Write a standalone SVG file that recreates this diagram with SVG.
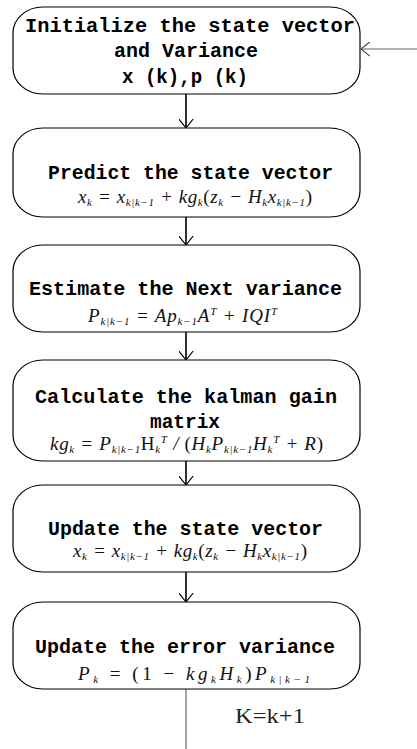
<svg xmlns="http://www.w3.org/2000/svg" width="417" height="749" viewBox="0 0 417 749">
<style>
.box{fill:#fff;stroke:#000;stroke-width:1.2}
.t{font-family:"Liberation Mono","DejaVu Sans Mono",monospace;font-weight:bold;font-size:20px;fill:#000}
.f{font-family:"Liberation Serif","Times New Roman",serif;font-style:italic;font-size:19px;fill:#111}
.r{font-style:normal}
.s{font-size:11px}
.c{stroke:#000;stroke-width:1.6;fill:none}
.g{stroke:#666;stroke-width:1.2;fill:none}
.k{font-family:"Liberation Serif","Times New Roman",serif;font-size:21px;fill:#222}
</style>
<defs>
<marker id="ah" viewBox="0 0 10 16" refX="10" refY="8" markerWidth="9" markerHeight="15" markerUnits="userSpaceOnUse" orient="auto">
<path d="M0,0 L10,8 L0,16" fill="none" stroke="#000" stroke-width="1.3"/>
</marker>
<marker id="ahg" viewBox="0 0 10 16" refX="10" refY="8" markerWidth="9" markerHeight="15" markerUnits="userSpaceOnUse" orient="auto">
<path d="M0,0 L10,8 L0,16" fill="none" stroke="#444" stroke-width="1.2"/>
</marker>
</defs>
<g id="connectors">
<line class="c" x1="186" y1="94" x2="186" y2="128" marker-end="url(#ah)"/>
<line class="c" x1="186" y1="217" x2="186" y2="245" marker-end="url(#ah)"/>
<line class="c" x1="186" y1="332" x2="186" y2="360" marker-end="url(#ah)"/>
<line class="c" x1="186" y1="461" x2="186" y2="485" marker-end="url(#ah)"/>
<line class="c" x1="186" y1="572" x2="186" y2="602" marker-end="url(#ah)"/>
<line class="g" x1="186" y1="689" x2="186" y2="749"/>
<line class="g" x1="417" y1="49" x2="361" y2="49" marker-end="url(#ahg)"/>
<text class="k" x="235" y="723" textLength="70" lengthAdjust="spacingAndGlyphs">K=k+1</text>
</g>
<g id="n1">
<rect class="box" x="13" y="7" width="347" height="87" rx="30" ry="26"/>
<text class="t" x="25" y="32" textLength="330" lengthAdjust="spacingAndGlyphs">Initialize the state vector</text>
<text class="t" x="114" y="57" textLength="144" lengthAdjust="spacingAndGlyphs">and Variance</text>
<text class="t" x="122" y="83" textLength="126" lengthAdjust="spacingAndGlyphs">x (k),p (k)</text>
</g>
<g id="n2">
<rect class="box" x="13" y="128" width="347" height="89" rx="30" ry="26"/>
<text class="t" x="48" y="179" textLength="285" lengthAdjust="spacingAndGlyphs">Predict the state vector</text>
<text class="f" x="78" y="203" textLength="234" lengthAdjust="spacing">x<tspan class="s" dy="3">k</tspan><tspan dy="-3"> = x</tspan><tspan class="s" dy="3">k|k−1</tspan><tspan dy="-3"> + kg</tspan><tspan class="s" dy="3">k</tspan><tspan dy="-3" class="r">(</tspan><tspan>z</tspan><tspan class="s" dy="3">k</tspan><tspan dy="-3"> − H</tspan><tspan class="s" dy="3">k</tspan><tspan dy="-3">x</tspan><tspan class="s" dy="3">k|k−1</tspan><tspan dy="-3" class="r">)</tspan></text>
</g>
<g id="n3">
<rect class="box" x="13" y="245" width="347" height="87" rx="30" ry="26"/>
<text class="t" x="29" y="295" textLength="313" lengthAdjust="spacingAndGlyphs">Estimate the Next variance</text>
<text class="f" x="88" y="322" textLength="189" lengthAdjust="spacing">P<tspan class="s" dy="3">k|k−1</tspan><tspan dy="-3"> = Ap</tspan><tspan class="s" dy="3">k−1</tspan><tspan dy="-3">A</tspan><tspan class="s" dy="-7">T</tspan><tspan dy="7"> + IQI</tspan><tspan class="s" dy="-7">T</tspan></text>
</g>
<g id="n4">
<rect class="box" x="13" y="360" width="347" height="101" rx="30" ry="26"/>
<text class="t" x="35" y="403" textLength="302" lengthAdjust="spacingAndGlyphs">Calculate the kalman gain</text>
<text class="t" x="150" y="428" textLength="70" lengthAdjust="spacingAndGlyphs">matrix</text>
<text class="f" x="50" y="450" textLength="273" lengthAdjust="spacing">kg<tspan class="s" dy="3">k</tspan><tspan dy="-3"> = P</tspan><tspan class="s" dy="3">k|k−1</tspan><tspan dy="-3" class="r">H</tspan><tspan class="s" dy="3">k</tspan><tspan class="s" dy="-10">T</tspan><tspan dy="7"> / </tspan><tspan class="r">(</tspan><tspan>H</tspan><tspan class="s" dy="3">k</tspan><tspan dy="-3">P</tspan><tspan class="s" dy="3">k|k−1</tspan><tspan dy="-3">H</tspan><tspan class="s" dy="3">k</tspan><tspan class="s" dy="-10">T</tspan><tspan dy="7"> + R</tspan><tspan class="r">)</tspan></text>
</g>
<g id="n5">
<rect class="box" x="13" y="485" width="347" height="87" rx="30" ry="26"/>
<text class="t" x="48" y="535" textLength="275" lengthAdjust="spacingAndGlyphs">Update the state vector</text>
<text class="f" x="73" y="557" textLength="234" lengthAdjust="spacing">x<tspan class="s" dy="3">k</tspan><tspan dy="-3"> = x</tspan><tspan class="s" dy="3">k|k−1</tspan><tspan dy="-3"> + kg</tspan><tspan class="s" dy="3">k</tspan><tspan dy="-3" class="r">(</tspan><tspan>z</tspan><tspan class="s" dy="3">k</tspan><tspan dy="-3"> − H</tspan><tspan class="s" dy="3">k</tspan><tspan dy="-3">x</tspan><tspan class="s" dy="3">k|k−1</tspan><tspan dy="-3" class="r">)</tspan></text>
</g>
<g id="n6">
<rect class="box" x="13" y="602" width="347" height="87" rx="30" ry="26"/>
<text class="t" x="35" y="653" textLength="300" lengthAdjust="spacingAndGlyphs">Update the error variance</text>
<text class="f" x="78" y="680" textLength="232" lengthAdjust="spacing">P<tspan class="s" dy="3">k</tspan><tspan dy="-3" class="r"> = (1 − </tspan><tspan>kg</tspan><tspan class="s" dy="3">k</tspan><tspan dy="-3">H</tspan><tspan class="s" dy="3">k</tspan><tspan dy="-3" class="r">)</tspan><tspan>P</tspan><tspan class="s" dy="3">k|k−1</tspan></text>
</g>
</svg>
